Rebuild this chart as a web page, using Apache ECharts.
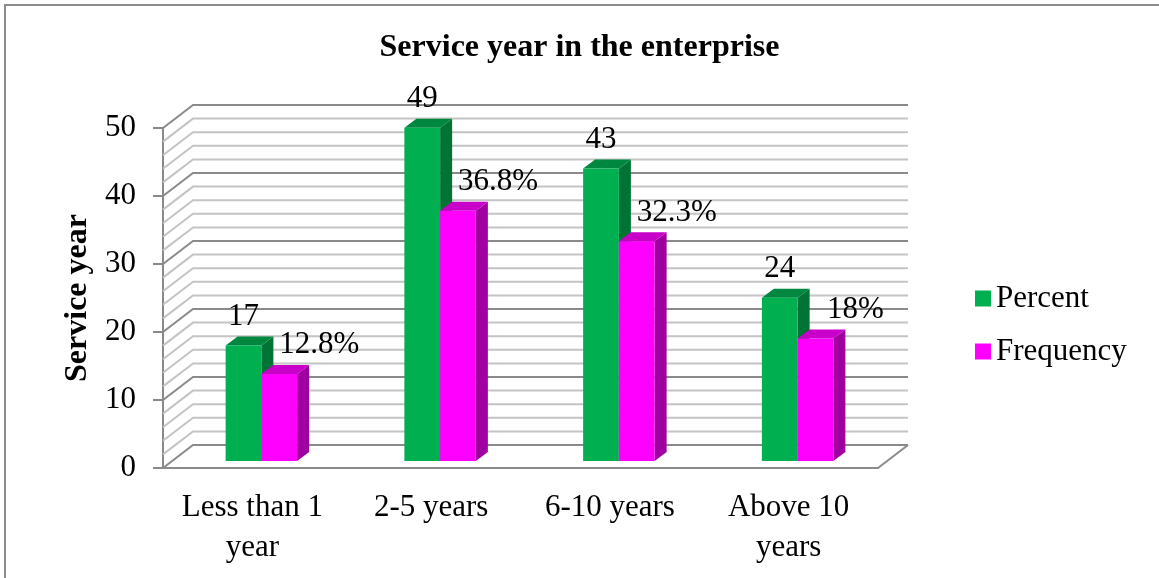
<!DOCTYPE html>
<html>
<head>
<meta charset="utf-8">
<title>Service year in the enterprise</title>
<script src="https://cdn.jsdelivr.net/npm/echarts@6/dist/echarts.min.js"></script>
<style>
  html, body { margin: 0; padding: 0; background: #ffffff; }
  #chart { width: 1159px; height: 578px; }
</style>
</head>
<body>
<div id="chart"></div>
<script>
// ---- data ----
const categories = ['Less than 1\nyear', '2-5 years', '6-10 years', 'Above 10\nyears'];
const seriesNames = ['Percent', 'Frequency'];
const percentValues = [17, 49, 43, 24];
const frequencyValues = [12.8, 36.8, 32.3, 18];
const yTickValues = [0, 10, 20, 30, 40, 50];
// back-wall gridlines (every 2 units, darker every 10)
const wallLineValues = [0, 2, 4, 6, 8, 10, 12, 14, 16, 18, 20, 22, 24, 26, 28, 30,
                        32, 34, 36, 38, 40, 42, 44, 46, 48, 50];

// ---- pseudo-3D geometry (pixel offsets relative to the bar plane) ----
const FRONT = { dx: -9, dy: 7 };     // front edge of floor / value axis
const BACK = { dx: 21, dy: -16 };    // back wall
const BAR_DEPTH = { dx: 12, dy: -9 }; // depth of each bar

const FONT = '"Liberation Serif", "Times New Roman", serif';
const GRAY_DARK = '#8a8a8a';
const GRAY_LIGHT = '#c4c4c4';

const barColors = [
  { front: '#00B050', side: '#007335', top: '#00873F' },
  { front: '#FF00FF', side: '#A000A0', top: '#C900C9' }
];

function wallItem(params, api) {
  const cs = params.coordSys;
  const v = api.value(1);
  const y = api.coord([0, v])[1];
  const major = v % 10 === 0;
  const stroke = major ? GRAY_DARK : GRAY_LIGHT;
  const children = [{
    type: 'polyline',
    shape: {
      points: [
        [cs.x + FRONT.dx, y + FRONT.dy],
        [cs.x + BACK.dx, y + BACK.dy],
        [cs.x + cs.width + BACK.dx, y + BACK.dy]
      ]
    },
    style: { stroke: stroke, lineWidth: 2, fill: null }
  }];
  if (v === 0) {
    // right edge of the floor
    children.push({
      type: 'line',
      shape: {
        x1: cs.x + cs.width + FRONT.dx, y1: y + FRONT.dy,
        x2: cs.x + cs.width + BACK.dx, y2: y + BACK.dy
      },
      style: { stroke: GRAY_DARK, lineWidth: 2 }
    });
  }
  return { type: 'group', children: children };
}

function makeBarRenderer(seriesIndex, labelFormatter, labelShiftX) {
  const c = barColors[seriesIndex];
  return function (params, api) {
    const idx = api.value(0);
    const v = api.value(1);
    const topPt = api.coord([idx, v]);
    const basePt = api.coord([idx, 0]);
    const band = api.size([1, 0])[0];
    const bw = band * 0.2;
    const x0 = topPt[0] - bw + seriesIndex * bw;
    const x1 = x0 + bw;
    const yt = topPt[1];
    const yb = basePt[1];
    const dx = BAR_DEPTH.dx, dy = BAR_DEPTH.dy;
    return {
      type: 'group',
      children: [
        {
          type: 'polygon',
          shape: { points: [[x1, yt], [x1 + dx, yt + dy], [x1 + dx, yb + dy], [x1, yb]] },
          style: { fill: c.side }
        },
        {
          type: 'polygon',
          shape: { points: [[x0, yt], [x1, yt], [x1 + dx, yt + dy], [x0 + dx, yt + dy]] },
          style: { fill: c.top }
        },
        {
          type: 'rect',
          shape: { x: x0, y: yt, width: bw, height: yb - yt },
          style: { fill: c.front }
        },
        {
          type: 'text',
          style: {
            text: labelFormatter(v),
            x: (x0 + x1) / 2 + labelShiftX,
            y: yt - 29,
            fill: '#000000',
            font: '31px ' + FONT,
            align: 'center',
            verticalAlign: 'middle',
            textAlign: 'center',
            textVerticalAlign: 'middle'
          }
        }
      ]
    };
  };
}

const chart = echarts.init(document.getElementById('chart'));

chart.setOption({
  animation: false,
  backgroundColor: '#ffffff',
  color: [barColors[0].front, barColors[1].front],
  title: {
    text: 'Service year in the enterprise',
    left: 'center',
    top: 27,
    textStyle: { fontFamily: FONT, fontSize: 32, fontWeight: 'bold', color: '#000000' }
  },
  legend: {
    orient: 'vertical',
    left: 975,
    top: 283,
    padding: 0,
    itemWidth: 16,
    itemHeight: 16,
    itemGap: 22,
    icon: 'rect',
    data: seriesNames,
    textStyle: { fontFamily: FONT, fontSize: 31, color: '#000000', lineHeight: 30 }
  },
  graphic: [{
    type: 'rect',
    shape: { x: 5, y: 5, width: 1170, height: 590 },
    style: { fill: null, stroke: '#8c8c8c', lineWidth: 2 },
    silent: true
  }],
  grid: [
    // plane of the bars
    { left: 172, right: 272, top: 121, bottom: 117 },
    // front plane: value axis and category labels
    { left: 163, right: 281, top: 128, bottom: 110 }
  ],
  xAxis: [
    { type: 'category', gridIndex: 0, data: categories, show: false },
    {
      type: 'category', gridIndex: 1, data: categories,
      axisLine: { show: true, lineStyle: { color: GRAY_DARK, width: 2 } },
      axisTick: { show: false },
      splitLine: { show: false },
      axisLabel: {
        interval: 0, margin: 20, color: '#000000',
        fontFamily: FONT, fontSize: 31, lineHeight: 40
      }
    }
  ],
  yAxis: [
    { type: 'value', gridIndex: 0, min: 0, max: 50, interval: 10, show: false },
    {
      type: 'value', gridIndex: 1, min: 0, max: 50, interval: 10,
      name: 'Service year',
      nameLocation: 'middle',
      nameGap: 61,
      nameTextStyle: { fontFamily: FONT, fontSize: 32, fontWeight: 'bold', color: '#000000' },
      axisLine: { show: true, lineStyle: { color: GRAY_DARK, width: 2 } },
      axisTick: { show: true, length: 10, lineStyle: { color: GRAY_DARK, width: 2 } },
      splitLine: { show: false },
      axisLabel: {
        margin: 27, color: '#000000', fontFamily: FONT, fontSize: 31,
        formatter: function (v) { return yTickValues.indexOf(v) >= 0 ? String(v) : ''; }
      }
    }
  ],
  series: [
    {
      type: 'custom',
      name: 'wall',
      xAxisIndex: 0, yAxisIndex: 0,
      z: 1,
      silent: true,
      renderItem: wallItem,
      data: wallLineValues.map(function (v) { return [0, v]; })
    },
    {
      type: 'custom',
      name: seriesNames[0],
      xAxisIndex: 0, yAxisIndex: 0,
      z: 3,
      itemStyle: { color: barColors[0].front },
      renderItem: makeBarRenderer(0, function (v) { return String(v); }, 0),
      data: percentValues.map(function (v, i) { return [i, v]; })
    },
    {
      type: 'custom',
      name: seriesNames[1],
      xAxisIndex: 0, yAxisIndex: 0,
      z: 4,
      itemStyle: { color: barColors[1].front },
      renderItem: makeBarRenderer(1, function (v) { return v + '%'; }, 40),
      data: frequencyValues.map(function (v, i) { return [i, v]; })
    }
  ]
});
</script>
</body>
</html>
